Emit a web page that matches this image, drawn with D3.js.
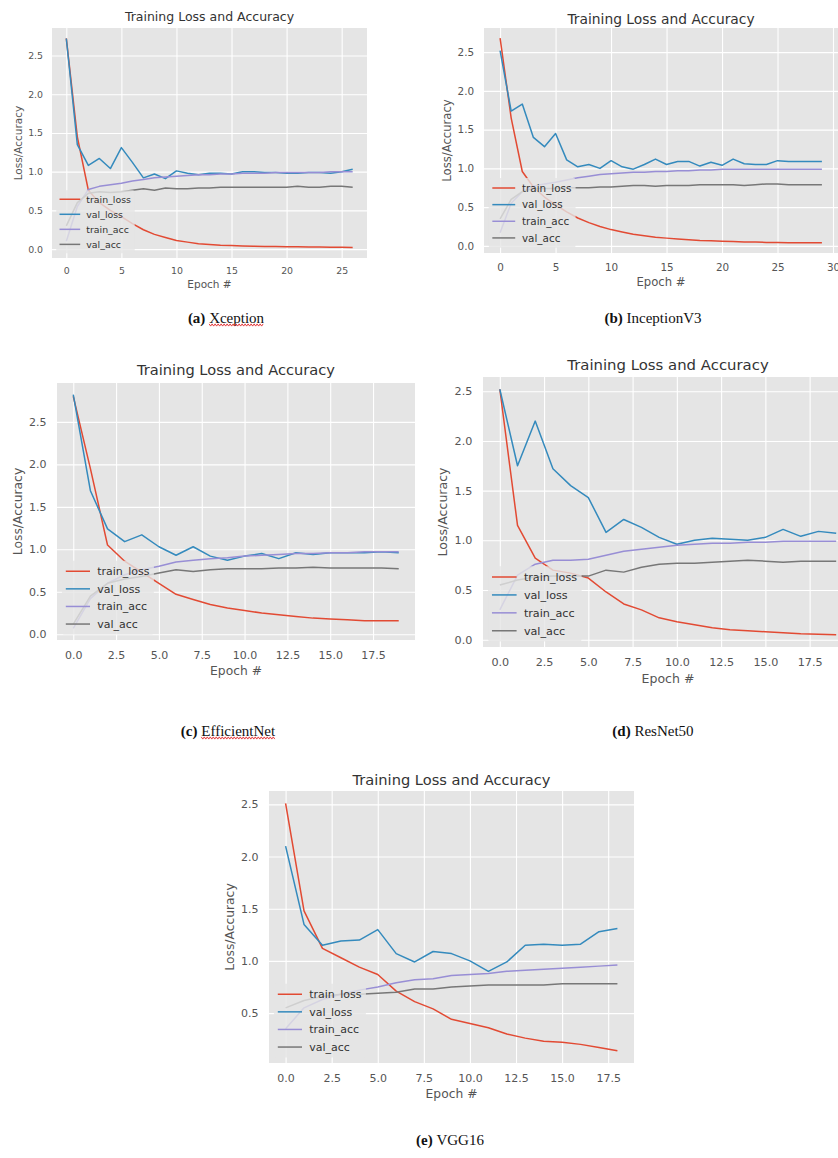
<!DOCTYPE html>
<html>
<head>
<meta charset="utf-8">
<script src="https://cdn.jsdelivr.net/npm/d3@7"></script>
<style>
  html, body { margin: 0; padding: 0; background: #fff; }
  svg { display: block; }
  text { font-family: "DejaVu Sans", sans-serif; }
  .caption { font-family: "Liberation Serif", "Times New Roman", serif; fill: #111; }
</style>
</head>
<body>
<svg id="chart" width="838" height="1158"></svg>
<script>
// ── Data ──────────────────────────────────────────────────────────────────
const SERIES_NAMES = ["train_loss", "val_loss", "train_acc", "val_acc"];
const SERIES_COLORS = ["#E24A33", "#348ABD", "#988ED5", "#777777"];

const Y_TICKS = [0, 0.5, 1.0, 1.5, 2.0, 2.5];
const X_TICKS_25 = [0, 5, 10, 15, 20, 25];
const X_TICKS_30 = [0, 5, 10, 15, 20, 25, 30];
const X_TICKS_HALF = [0, 2.5, 5, 7.5, 10, 12.5, 15, 17.5];

// (a) Xception
const xcTrainLoss = [2.72, 1.45, 0.76, 0.6, 0.5, 0.42, 0.33, 0.25, 0.19, 0.15, 0.11, 0.09, 0.07, 0.06, 0.05, 0.045, 0.04, 0.038, 0.035, 0.033, 0.03, 0.03, 0.028, 0.026, 0.025, 0.023, 0.02];
const xcValLoss = [2.72, 1.35, 1.08, 1.17, 1.04, 1.31, 1.12, 0.92, 0.97, 0.91, 1.01, 0.98, 0.96, 0.98, 0.98, 0.97, 1.0, 1.0, 0.99, 0.99, 0.98, 0.98, 0.99, 0.99, 0.98, 1.0, 1.03];
const xcTrainAcc = [0.1, 0.55, 0.77, 0.81, 0.83, 0.85, 0.88, 0.9, 0.92, 0.93, 0.94, 0.95, 0.96, 0.96, 0.97, 0.97, 0.98, 0.98, 0.98, 0.99, 0.99, 0.99, 0.99, 0.99, 1.0, 1.0, 1.0];
const xcValAcc = [0.3, 0.6, 0.72, 0.74, 0.73, 0.74, 0.76, 0.78, 0.76, 0.79, 0.78, 0.78, 0.79, 0.79, 0.8, 0.8, 0.8, 0.8, 0.8, 0.8, 0.8, 0.81, 0.8, 0.8, 0.81, 0.81, 0.8];

// (b) InceptionV3
const incTrainLoss = [2.68, 1.65, 0.96, 0.76, 0.63, 0.53, 0.44, 0.36, 0.3, 0.25, 0.21, 0.18, 0.15, 0.13, 0.11, 0.1, 0.09, 0.08, 0.07, 0.065, 0.06, 0.055, 0.05, 0.05, 0.045, 0.045, 0.04, 0.04, 0.04, 0.04];
const incValLoss = [2.52, 1.74, 1.83, 1.4, 1.28, 1.45, 1.11, 1.02, 1.05, 1.0, 1.1, 1.02, 0.99, 1.05, 1.12, 1.05, 1.09, 1.09, 1.03, 1.08, 1.04, 1.12, 1.06, 1.05, 1.05, 1.1, 1.09, 1.09, 1.09, 1.09];
const incTrainAcc = [0.17, 0.55, 0.7, 0.77, 0.8, 0.82, 0.85, 0.88, 0.9, 0.92, 0.93, 0.94, 0.95, 0.95, 0.96, 0.96, 0.97, 0.97, 0.98, 0.98, 0.99, 0.99, 0.99, 0.99, 0.99, 0.99, 0.99, 0.99, 0.99, 0.99];
const incValAcc = [0.35, 0.6, 0.7, 0.74, 0.74, 0.74, 0.75, 0.75, 0.75, 0.76, 0.76, 0.77, 0.78, 0.78, 0.77, 0.78, 0.78, 0.78, 0.79, 0.79, 0.79, 0.79, 0.78, 0.79, 0.8, 0.8, 0.79, 0.79, 0.79, 0.79];

// (c) EfficientNet
const effTrainLoss = [2.8, 1.95, 1.05, 0.86, 0.73, 0.6, 0.47, 0.41, 0.35, 0.31, 0.28, 0.25, 0.23, 0.21, 0.19, 0.18, 0.17, 0.16, 0.16, 0.16];
const effValLoss = [2.82, 1.69, 1.24, 1.09, 1.17, 1.03, 0.93, 1.03, 0.92, 0.87, 0.92, 0.95, 0.89, 0.96, 0.94, 0.96, 0.96, 0.96, 0.97, 0.96];
const effTrainAcc = [0.07, 0.42, 0.6, 0.7, 0.76, 0.8, 0.85, 0.87, 0.89, 0.9, 0.92, 0.93, 0.94, 0.95, 0.95, 0.96, 0.96, 0.97, 0.97, 0.97];
const effValAcc = [0.12, 0.45, 0.6, 0.65, 0.68, 0.72, 0.76, 0.74, 0.76, 0.77, 0.77, 0.77, 0.78, 0.78, 0.79, 0.78, 0.78, 0.78, 0.78, 0.77];

// (d) ResNet50
const resTrainLoss = [2.52, 1.15, 0.82, 0.7, 0.67, 0.62, 0.48, 0.36, 0.3, 0.22, 0.18, 0.15, 0.12, 0.1, 0.09, 0.08, 0.07, 0.06, 0.055, 0.05];
const resValLoss = [2.52, 1.75, 2.2, 1.72, 1.55, 1.43, 1.08, 1.21, 1.13, 1.03, 0.96, 1.0, 1.02, 1.01, 1.0, 1.03, 1.11, 1.04, 1.09, 1.07];
const resTrainAcc = [0.3, 0.65, 0.76, 0.8, 0.8, 0.81, 0.85, 0.89, 0.91, 0.93, 0.95, 0.96, 0.97, 0.97, 0.98, 0.98, 0.99, 0.99, 0.99, 0.99];
const resValAcc = [0.55, 0.6, 0.63, 0.64, 0.64, 0.64, 0.7, 0.68, 0.73, 0.76, 0.77, 0.77, 0.78, 0.79, 0.8, 0.79, 0.78, 0.79, 0.79, 0.79];

// (e) VGG16
const vggTrainLoss = [2.51, 1.48, 1.12, 1.03, 0.94, 0.87, 0.71, 0.61, 0.54, 0.44, 0.4, 0.36, 0.3, 0.26, 0.23, 0.22, 0.2, 0.17, 0.14];
const vggValLoss = [2.1, 1.35, 1.15, 1.19, 1.2, 1.3, 1.07, 0.99, 1.09, 1.07, 1.0, 0.9, 0.99, 1.15, 1.16, 1.15, 1.16, 1.28, 1.31];
const vggTrainAcc = [0.35, 0.55, 0.63, 0.68, 0.72, 0.75, 0.79, 0.82, 0.83, 0.86, 0.87, 0.88, 0.9, 0.91, 0.92, 0.93, 0.94, 0.95, 0.96];
const vggValAcc = [0.55, 0.62, 0.66, 0.68, 0.68, 0.69, 0.7, 0.73, 0.73, 0.75, 0.76, 0.77, 0.77, 0.77, 0.77, 0.78, 0.78, 0.78, 0.78];

// ── Panel layout ──────────────────────────────────────────────────────────
const PANELS = [
  { label: "(a)", name: "Xception", squiggle: true,
    series: [xcTrainLoss, xcValLoss, xcTrainAcc, xcValAcc],
    xTicks: X_TICKS_25, xFmt: d3.format("d"),
    box: { left: 52, top: 28, right: 367, bottom: 258 }, fs: 9.4, titleY: 17, capX: 226, capY: 318 },
  { label: "(b)", name: "InceptionV3", squiggle: false,
    series: [incTrainLoss, incValLoss, incTrainAcc, incValAcc],
    xTicks: X_TICKS_30, xFmt: d3.format("d"),
    box: { left: 484, top: 28, right: 838, bottom: 253 }, fs: 10.4, titleY: 19, capX: 653, capY: 318 },
  { label: "(c)", name: "EfficientNet", squiggle: true,
    series: [effTrainLoss, effValLoss, effTrainAcc, effValAcc],
    xTicks: X_TICKS_HALF, xFmt: d3.format(".1f"),
    box: { left: 57, top: 383, right: 415, bottom: 640 }, fs: 11, titleY: 370, capX: 228, capY: 731 },
  { label: "(d)", name: "ResNet50", squiggle: false,
    series: [resTrainLoss, resValLoss, resTrainAcc, resValAcc],
    xTicks: X_TICKS_HALF, xFmt: d3.format(".1f"),
    box: { left: 483, top: 377, right: 853, bottom: 647 }, fs: 11.2, titleY: 365, capX: 653, capY: 731 },
  { label: "(e)", name: "VGG16", squiggle: false,
    series: [vggTrainLoss, vggValLoss, vggTrainAcc, vggValAcc],
    xTicks: X_TICKS_HALF, xFmt: d3.format(".1f"),
    box: { left: 269, top: 791, right: 634, bottom: 1063 }, fs: 11, titleY: 780, capX: 450, capY: 1140 },
];

const svg = d3.select("#chart");

// ── Draw one subplot ──────────────────────────────────────────────────────
function drawPanel(p, idx) {
  const { left, top, right, bottom } = p.box;
  const fs = p.fs;
  const n = p.series[0].length;

  // matplotlib-style 5% auto margins
  const xPad = (n - 1) * 0.05;
  const x = d3.scaleLinear().domain([-xPad, n - 1 + xPad]).range([left, right]);
  const [lo, hi] = d3.extent(p.series.flat());
  const yPad = (hi - lo) * 0.05;
  const y = d3.scaleLinear().domain([lo - yPad, hi + yPad]).range([bottom, top]);

  const g = svg.append("g").attr("class", "panel");

  g.append("clipPath").attr("id", "clip" + idx)
    .append("rect").attr("x", left).attr("y", top)
    .attr("width", right - left).attr("height", bottom - top);

  g.append("rect")
    .attr("x", left).attr("y", top)
    .attr("width", right - left).attr("height", bottom - top)
    .attr("fill", "#E5E5E5");

  // ── axes + grid ──
  const yTicks = Y_TICKS.filter((t) => t >= y.domain()[0] && t <= y.domain()[1]);
  const xTicks = p.xTicks.filter((t) => t >= x.domain()[0] && t <= x.domain()[1]);

  const xAxis = g.append("g")
    .attr("transform", `translate(0,${bottom})`)
    .call(d3.axisBottom(x).tickValues(xTicks).tickFormat(p.xFmt)
      .tickSize(-(bottom - top)).tickPadding(fs * 0.98));
  const yAxis = g.append("g")
    .attr("transform", `translate(${left},0)`)
    .call(d3.axisLeft(y).tickValues(yTicks).tickFormat(d3.format(".1f"))
      .tickSize(-(right - left)).tickPadding(fs * 0.95));

  [xAxis, yAxis].forEach((ax) => {
    ax.select(".domain").remove();
    ax.selectAll(".tick line").attr("stroke", "#fff").attr("stroke-width", 1.1);
    ax.selectAll(".tick text")
      .attr("fill", "#555")
      .style("font-family", '"DejaVu Sans", sans-serif')
      .style("font-size", fs + "px");
  });

  // ── lines ──
  const line = d3.line().x((d, i) => x(i)).y((d) => y(d));
  g.append("g").attr("clip-path", `url(#clip${idx})`)
    .selectAll("path")
    .data(p.series)
    .join("path")
    .attr("d", line)
    .attr("fill", "none")
    .attr("stroke", (d, i) => SERIES_COLORS[i])
    .attr("stroke-width", 1.5)
    .attr("stroke-linejoin", "round");

  // ── legend (lower left) ──
  const rowH = fs * 1.6;
  const lastY = bottom - fs * 1.45;
  const x0 = left + fs * 0.8;
  const x1 = x0 + fs * 2.2;
  const tx = x1 + fs * 0.65;
  const leg = g.append("g");
  const box = leg.append("rect")
    .attr("fill", "#E5E5E5").attr("fill-opacity", 0.8)
    .attr("rx", fs * 0.2);
  const rows = leg.selectAll(".row")
    .data(SERIES_NAMES)
    .join("g")
    .attr("transform", (d, i) => `translate(0,${lastY - (3 - i) * rowH})`);
  rows.append("line")
    .attr("x1", x0).attr("x2", x1)
    .attr("stroke", (d, i) => SERIES_COLORS[i])
    .attr("stroke-width", 1.5);
  rows.append("text")
    .attr("x", tx).attr("dy", "0.35em")
    .attr("fill", "#333")
    .style("font-size", fs + "px")
    .text((d) => d);
  let maxW = 0;
  rows.selectAll("text").each(function () { maxW = Math.max(maxW, this.getComputedTextLength()); });
  box.attr("x", left + fs * 0.45)
    .attr("y", lastY - 3 * rowH - fs * 0.95)
    .attr("width", tx + maxW + fs * 0.4 - (left + fs * 0.45))
    .attr("height", 3 * rowH + fs * 1.9);

  // ── title + axis labels ──
  g.append("text")
    .attr("x", (left + right) / 2).attr("y", p.titleY)
    .attr("text-anchor", "middle").attr("dy", "0.35em")
    .attr("fill", "#333")
    .style("font-size", fs * 1.33 + "px")
    .text("Training Loss and Accuracy");

  g.append("text")
    .attr("x", (left + right) / 2).attr("y", bottom + fs * 2.8)
    .attr("text-anchor", "middle").attr("dy", "0.35em")
    .attr("fill", "#555")
    .style("font-size", fs * 1.12 + "px")
    .text("Epoch #");

  g.append("text")
    .attr("transform", `translate(${left - fs * 3.6},${(top + bottom) / 2}) rotate(-90)`)
    .attr("text-anchor", "middle").attr("dy", "0.35em")
    .attr("fill", "#555")
    .style("font-size", fs * 1.12 + "px")
    .text("Loss/Accuracy");

  // ── caption under the subplot ──
  const cap = svg.append("text")
    .attr("class", "caption")
    .attr("x", p.capX).attr("y", p.capY)
    .attr("text-anchor", "middle").attr("dy", "0.35em")
    .style("font-size", "15px");
  const lab = cap.append("tspan").attr("font-weight", "bold").text(p.label + " ");
  const nm = cap.append("tspan").text(p.name);

  if (p.squiggle) {
    const total = cap.node().getComputedTextLength();
    const start = p.capX - total / 2 + lab.node().getComputedTextLength();
    const w = nm.node().getComputedTextLength();
    const pts = d3.range(0, w + 0.1, 1.5).map((dx, i) => [start + dx, p.capY + 7 + (i % 2 ? 1.1 : -1.1)]);
    svg.append("path")
      .attr("d", d3.line()(pts))
      .attr("fill", "none")
      .attr("stroke", "#E0282A")
      .attr("stroke-width", 0.9);
  }
}

PANELS.forEach(drawPanel);
</script>
</body>
</html>
